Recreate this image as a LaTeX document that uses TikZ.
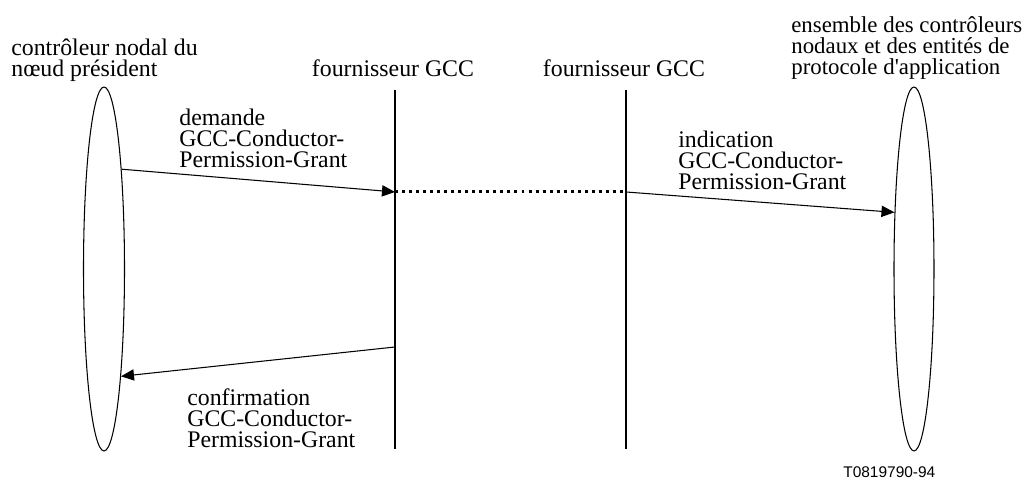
\documentclass[tikz,border=0pt]{standalone}
\usepackage{fontspec}
\setmainfont{Liberation Serif}[Ligatures=TeXOff]
\newfontfamily\tagfont{Liberation Sans}
\usetikzlibrary{shapes.geometric,arrows.meta}
\tikzset{
  entity/.style={draw, ellipse, line width=0.6pt, inner sep=0pt, minimum width=0.82cm, minimum height=7.28cm},
  lifeline/.style={line width=1.1pt},
  msg/.style={line width=0.6pt, -{Triangle[length=7.4pt,width=6.4pt]}},
  lbl/.style={inner sep=0pt, align=left, font=\fontsize{13.55}{12.2}\selectfont},
}
\begin{document}
\begin{tikzpicture}[x=0.02cm, y=0.02cm]
\useasboundingbox (0,0) rectangle (1036,482);
% the two ends and the two GCC providers
\node[entity] (president) at (104,213) {};
\node[entity, minimum width=0.8cm] (ensemble) at (914,213) {};
\coordinate (p1-top) at (395,392); \coordinate (p1-bot) at (395,33);
\coordinate (p2-top) at (626,392); \coordinate (p2-bot) at (626,33);
\draw[lifeline] (p1-top) -- (p1-bot);
\draw[lifeline] (p2-top) -- (p2-bot);
\coordinate (p1-req) at (395,290); \coordinate (p2-ind) at (626,290);
\coordinate (p1-cnf) at (395,135);
% primitives
\draw[msg] (president.80.5) -- (p1-req);
\draw[line width=1.7pt, dash pattern=on 1.7pt off 2.3pt] (p1-req) -- (p2-ind);
\draw[msg] (p2-ind) -- (ensemble.109.5);
\draw[msg] (p1-cnf) -- (president.279.2);
% labels (base = last line)
\node[lbl, anchor=base west] (t-president) at (11,405) {contrôleur nodal du\\nœud président};
\node[lbl, anchor=base] (t-p1) at (393,405) {fournisseur GCC};
\node[lbl, anchor=base] (t-p2) at (624,405) {fournisseur GCC};
\node[lbl, anchor=base west, font=\fontsize{13}{12.2}\selectfont] (t-ensemble) at (791,407) {ensemble des contrôleurs\\nodaux et des entités de\\protocole d'application};
\node[lbl, anchor=base west] (t-req) at (179,314) {demande\\GCC-Conductor-\\Permission-Grant};
\node[lbl, anchor=base west] (t-ind) at (678,292) {indication\\GCC-Conductor-\\Permission-Grant};
\node[lbl, anchor=base west] (t-cnf) at (187,34) {confirmation\\GCC-Conductor-\\Permission-Grant};
\node[inner sep=0pt, anchor=base west, font=\tagfont\fontsize{8.8}{10}\selectfont] (tag) at (843,4) {T0819790-94};
\end{tikzpicture}
\end{document}
